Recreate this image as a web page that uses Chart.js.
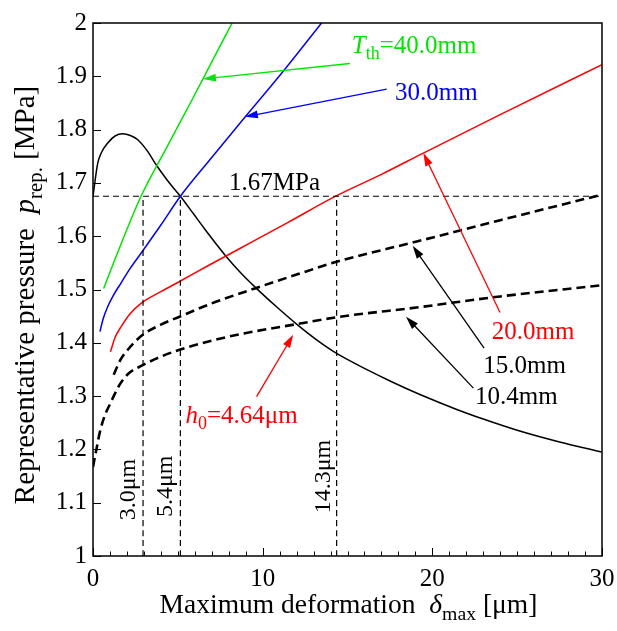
<!DOCTYPE html>
<html>
<head>
<meta charset="utf-8">
<script src="https://cdn.jsdelivr.net/npm/chart.js@4.4.0/dist/chart.umd.min.js"></script>
<style>
    html, body { margin: 0; padding: 0; background: #fff; }
    #wrap { width: 617px; height: 631px; }
</style>
</head>
<body>
<div id="wrap"><canvas id="grafico" width="617" height="631"></canvas></div>
<script>
const FONT = "'Liberation Serif', 'Times New Roman', serif";

// curves: delta_max [um] -> p_rep [MPa]
const greenX = [0.63, 1.36, 2.83, 4.3, 5.84, 7.0, 8.2];
const greenY = [1.502, 1.562, 1.675, 1.764, 1.856, 1.927, 2.0];

const blueX = [0.41, 0.6, 0.87, 1.2, 1.65, 2.2, 2.83, 4.0, 5.15, 6.9, 8.66, 11.2, 13.47];
const blueY = [1.421, 1.445, 1.468, 1.489, 1.512, 1.540, 1.568, 1.621, 1.675, 1.744, 1.812, 1.909, 2.0];

const redX = [1.03, 1.3, 1.65, 2.2, 2.83, 4.0, 5.1, 6.8, 8.6, 11.5, 14.36, 17, 19.47, 24, 30];
const redY = [1.383, 1.41, 1.430, 1.455, 1.474, 1.496, 1.515, 1.545, 1.576, 1.626, 1.676, 1.716, 1.756, 1.828, 1.922];

const dash15X = [1.22, 1.6, 2.05, 2.93, 4.0, 5.1, 7.0, 9.54, 12, 14.36, 19.08, 24, 30];
const dash15Y = [1.34, 1.367, 1.387, 1.415, 1.434, 1.449, 1.474, 1.502, 1.528, 1.552, 1.590, 1.630, 1.678];

const dash104X = [0, 0.2, 0.4, 0.7, 1.0, 1.3, 1.6, 2.05, 2.93, 4.0, 5.1, 7.0, 8.8, 12, 14.36, 19.27, 24, 30];
const dash104Y = [1.167, 1.2, 1.232, 1.264, 1.285, 1.305, 1.323, 1.341, 1.358, 1.374, 1.387, 1.404, 1.417, 1.435, 1.448, 1.467, 1.487, 1.508];

const blackX = [0, 0.28, 0.5, 0.87, 1.3, 1.75, 2.2, 2.64, 3.2, 3.72, 4.4, 5.15, 5.9, 6.57, 7.85, 8.66, 9.54, 10.8, 12, 13.2, 14.36, 16, 17.6, 19.27, 21.44, 23, 25, 27.5, 30];
const blackY = [1.675, 1.737, 1.757, 1.775, 1.788, 1.792, 1.789, 1.781, 1.760, 1.734, 1.704, 1.675, 1.643, 1.614, 1.562, 1.533, 1.505, 1.468, 1.435, 1.405, 1.380, 1.352, 1.327, 1.303, 1.275, 1.257, 1.236, 1.214, 1.195];

const pressaoRef = 1.675;
const deformRef = [2.95, 5.15, 14.36];
const deformRefLabels = ['3.0\u03bcm', '5.4\u03bcm', '14.3\u03bcm'];

const xTicks = [0, 10, 20, 30];
const yTicks = [1, 1.1, 1.2, 1.3, 1.4, 1.5, 1.6, 1.7, 1.8, 1.9, 2];

function pts(xs, ys) {
    return xs.map((v, i) => ({ x: v, y: ys[i] }));
}

function serie(xs, ys, cor, largura, dash) {
    return {
        data: pts(xs, ys),
        borderColor: cor,
        borderWidth: largura,
        borderDash: dash || [],
        pointRadius: 0,
        fill: false,
        cubicInterpolationMode: 'monotone'
    };
}

const datasets = [
    serie([0, 30], [pressaoRef, pressaoRef], '#000', 1.2, [6, 4]),
    ...deformRef.map(d => serie([d, d], [1, pressaoRef], '#000', 1.2, [6, 4])),
    serie(greenX, greenY, '#00e600', 1.5),
    serie(blueX, blueY, '#0000ff', 1.5),
    serie(redX, redY, '#ff0000', 1.5),
    serie(dash15X, dash15Y, '#000', 2.6, [9, 5]),
    serie(dash104X, dash104Y, '#000', 2.6, [9, 5]),
    serie(blackX, blackY, '#000', 1.5)
];

// annotations (arrows + labels) in data coordinates
const setas = [
    { de: [15.14, 1.924], para: [6.48, 1.895], cor: '#00e600' },
    { de: [17.31, 1.876], para: [8.95, 1.824], cor: '#0000ff' },
    { de: [23.99, 1.457], para: [19.47, 1.756], cor: '#ff0000' },
    { de: [23.05, 1.39], para: [18.84, 1.582], cor: '#000' },
    { de: [22.42, 1.315], para: [18.45, 1.449], cor: '#000' },
    { de: [9.64, 1.299], para: [11.8, 1.415], cor: '#ff0000' }
];

const textos = [
    { pos: [15.25, 1.944], cor: '#00e600', partes: [{ t: 'T', it: true }, { t: 'th', sub: true }, { t: '=40.0mm' }] },
    { pos: [17.8, 1.856], cor: '#0000ff', partes: [{ t: '30.0mm' }] },
    { pos: [8.02, 1.687], cor: '#000', partes: [{ t: '1.67MPa' }] },
    { pos: [23.5, 1.407], cor: '#ff0000', partes: [{ t: '20.0mm' }] },
    { pos: [23.0, 1.343], cor: '#000', partes: [{ t: '15.0mm' }] },
    { pos: [22.52, 1.286], cor: '#000', partes: [{ t: '10.4mm' }] },
    { pos: [5.45, 1.25], cor: '#ff0000', partes: [{ t: 'h', it: true }, { t: '0', sub: true }, { t: '=4.64\u03bcm' }] }
];

const textosVerticais = [
    { pos: [2.46, 1.067], t: deformRefLabels[0] },
    { pos: [4.64, 1.073], t: deformRefLabels[1] },
    { pos: [13.96, 1.08], t: deformRefLabels[2] }
];

function larguraTexto(ctx, partes, size) {
    let w = 0;
    for (const p of partes) {
        const s = p.sub ? size * 0.72 : size;
        ctx.font = (p.it ? 'italic ' : '') + s + 'px ' + FONT;
        w += ctx.measureText(p.t).width;
    }
    return w;
}

function desenhaTexto(ctx, partes, x, y, cor, size) {
    let cx = x;
    ctx.fillStyle = cor;
    ctx.textAlign = 'left';
    ctx.textBaseline = 'alphabetic';
    for (const p of partes) {
        const s = p.sub ? size * 0.72 : size;
        ctx.font = (p.it ? 'italic ' : '') + s + 'px ' + FONT;
        ctx.fillText(p.t, cx, y + (p.sub ? size * 0.26 : 0));
        cx += ctx.measureText(p.t).width;
    }
}

function seta(ctx, x1, y1, x2, y2, cor) {
    const ang = Math.atan2(y2 - y1, x2 - x1);
    const L = 13, W = 4;
    ctx.strokeStyle = cor;
    ctx.fillStyle = cor;
    ctx.lineWidth = 1.3;
    ctx.setLineDash([]);
    ctx.beginPath();
    ctx.moveTo(x1, y1);
    ctx.lineTo(x2 - Math.cos(ang) * L * 0.8, y2 - Math.sin(ang) * L * 0.8);
    ctx.stroke();
    ctx.beginPath();
    ctx.moveTo(x2, y2);
    ctx.lineTo(x2 - Math.cos(ang) * L - Math.sin(ang) * W, y2 - Math.sin(ang) * L + Math.cos(ang) * W);
    ctx.lineTo(x2 - Math.cos(ang) * L + Math.sin(ang) * W, y2 - Math.sin(ang) * L - Math.cos(ang) * W);
    ctx.closePath();
    ctx.fill();
}

const anotacoesPlugin = {
    id: 'anotacoes',
    afterDraw(chart) {
        const { ctx, chartArea: a, scales: { x, y } } = chart;
        ctx.save();

        // frame
        ctx.setLineDash([]);
        ctx.strokeStyle = '#000';
        ctx.lineWidth = 1.5;
        ctx.strokeRect(a.left, a.top, a.right - a.left, a.bottom - a.top);

        // inward ticks
        ctx.lineWidth = 1;
        for (let v = 0; v <= 30; v++) {
            const px = Math.round(x.getPixelForValue(v)) + 0.5;
            const len = v % 10 === 0 ? 8 : 4.5;
            ctx.beginPath();
            ctx.moveTo(px, a.bottom);
            ctx.lineTo(px, a.bottom - len);
            ctx.stroke();
        }
        yTicks.forEach(v => {
            const py = Math.round(y.getPixelForValue(v)) + 0.5;
            ctx.beginPath();
            ctx.moveTo(a.left, py);
            ctx.lineTo(a.left + 8, py);
            ctx.stroke();
        });

        // arrows
        setas.forEach(s => {
            seta(ctx, x.getPixelForValue(s.de[0]), y.getPixelForValue(s.de[1]),
                x.getPixelForValue(s.para[0]), y.getPixelForValue(s.para[1]), s.cor);
        });

        // labels
        textos.forEach(tx => {
            desenhaTexto(ctx, tx.partes, x.getPixelForValue(tx.pos[0]), y.getPixelForValue(tx.pos[1]), tx.cor, 25);
        });

        textosVerticais.forEach(tx => {
            ctx.save();
            ctx.translate(x.getPixelForValue(tx.pos[0]), y.getPixelForValue(tx.pos[1]));
            ctx.rotate(-Math.PI / 2);
            desenhaTexto(ctx, [{ t: tx.t }], 0, 0, '#000', 24);
            ctx.restore();
        });

        // axis titles
        const tituloX = [{ t: 'Maximum deformation  ' }, { t: '\u03b4', it: true }, { t: 'max', sub: true }, { t: ' [\u03bcm]' }];
        const wX = larguraTexto(ctx, tituloX, 27.5);
        desenhaTexto(ctx, tituloX, (a.left + a.right) / 2 + 1 - wX / 2, 613, '#000', 27.5);

        const tituloY = [{ t: 'Representative pressure  ' }, { t: 'p', it: true }, { t: 'rep.', sub: true }, { t: ' [MPa]' }];
        const wY = larguraTexto(ctx, tituloY, 29);
        ctx.save();
        ctx.translate(34, 295);
        ctx.rotate(-Math.PI / 2);
        desenhaTexto(ctx, tituloY, -wY / 2, 0, '#000', 29);
        ctx.restore();

        ctx.restore();
    }
};

new Chart(document.getElementById('grafico'), {
    type: 'line',
    data: { datasets },
    plugins: [anotacoesPlugin],
    options: {
        responsive: false,
        animation: false,
        layout: { padding: { left: 0, top: 23, right: 15, bottom: 0 } },
        plugins: {
            legend: { display: false },
            tooltip: { enabled: false }
        },
        scales: {
            x: {
                type: 'linear',
                min: 0,
                max: 30,
                afterFit: s => { s.height = 75; s.paddingLeft = 0; s.paddingRight = 0; },
                afterBuildTicks: s => { s.ticks = xTicks.map(v => ({ value: v })); },
                grid: { display: false, drawTicks: false },
                border: { display: false },
                ticks: {
                    color: '#000',
                    padding: 8,
                    maxRotation: 0,
                    font: { family: FONT, size: 25 },
                    callback: v => String(v)
                }
            },
            y: {
                type: 'linear',
                min: 1,
                max: 2,
                afterFit: s => { s.width = 93; s.paddingTop = 0; s.paddingBottom = 0; },
                afterBuildTicks: s => { s.ticks = yTicks.map(v => ({ value: v })); },
                grid: { display: false, drawTicks: false },
                border: { display: false },
                ticks: {
                    color: '#000',
                    padding: 6,
                    font: { family: FONT, size: 25 },
                    callback: v => String(Number(v.toFixed(1)))
                }
            }
        }
    }
});
</script>
</body>
</html>
